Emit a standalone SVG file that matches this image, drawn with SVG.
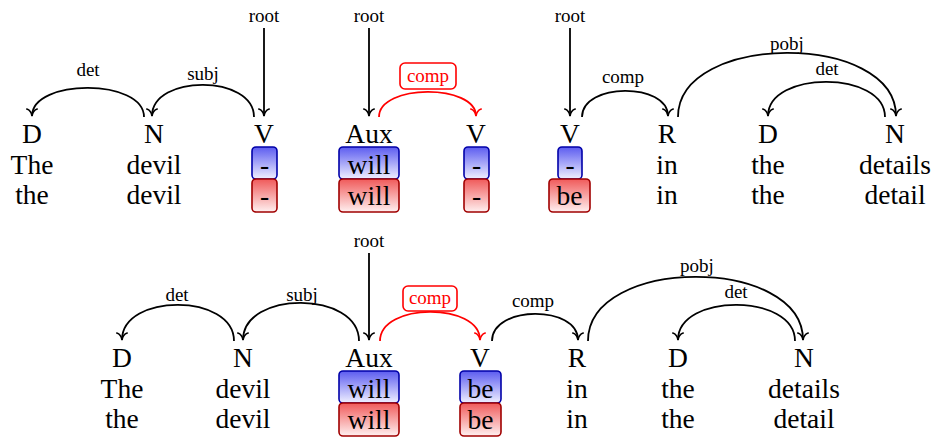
<svg xmlns="http://www.w3.org/2000/svg" width="935" height="440" viewBox="0 0 935 440">
<defs>
<linearGradient id="gb" x1="0" y1="0" x2="0" y2="1"><stop offset="0" stop-color="#5c5cf0"/><stop offset="1" stop-color="#f0f0ff"/></linearGradient>
<linearGradient id="gr" x1="0" y1="0" x2="0" y2="1"><stop offset="0" stop-color="#f05a5a"/><stop offset="1" stop-color="#fff0f0"/></linearGradient>
<marker id="ah" viewBox="-9 -7 11 14" markerWidth="11" markerHeight="14" refX="0" refY="0" orient="auto" markerUnits="userSpaceOnUse"><path d="M-7,-5.2 C-6,-2 -2.5,-0.4 0,0 C-2.5,0.4 -6,2 -7,5.2" fill="none" stroke="#000" stroke-width="1.6" stroke-linecap="round"/></marker>
<marker id="ahr" viewBox="-9 -7 11 14" markerWidth="11" markerHeight="14" refX="0" refY="0" orient="auto" markerUnits="userSpaceOnUse"><path d="M-7,-5.2 C-6,-2 -2.5,-0.4 0,0 C-2.5,0.4 -6,2 -7,5.2" fill="none" stroke="#f00" stroke-width="1.6" stroke-linecap="round"/></marker>
</defs>
<style>
text{font-family:"Liberation Serif","Times New Roman",serif;text-anchor:middle;fill:#000}
.t{font-size:27.5px}
.l{font-size:19px}
.lr{font-size:19px;fill:#f00}
.e{fill:none;stroke:#000;stroke-width:1.8;marker-end:url(#ah)}
.er{fill:none;stroke:#f00;stroke-width:1.8;marker-end:url(#ahr)}
.lb{fill:#fff;stroke:#f00;stroke-width:1.6}
.bb{fill:url(#gb);stroke:#0000a8;stroke-width:1.6}
.br{fill:url(#gr);stroke:#a00000;stroke-width:1.6}
</style>

<g id="connectors">
<!-- top -->
<path class="e" d="M264,28 L264,116"/>
<path class="e" d="M369,28 L369,116"/>
<path class="e" d="M570,28 L570,116"/>
<path class="e" d="M144,117 C144,78.3 32,78.3 32,116"/>
<path class="e" d="M254,117 C254,74.3 152,74.3 152,116"/>
<path class="er" d="M379,117 C379,83.7 476,83.7 476,116"/>
<path class="e" d="M582,117 C582,82.3 668,82.3 668,116"/>
<path class="e" d="M678,117 C678,31.7 896,31.7 896,116"/>
<path class="e" d="M885,117 C885,70.3 768,70.3 768,116"/>
<!-- bottom -->
<path class="e" d="M369,253 L369,340"/>
<path class="e" d="M234,341 C234,293 122,293 122,340"/>
<path class="e" d="M359,341 C359,290.3 243,290.3 243,340"/>
<path class="er" d="M380,341 C380,302.3 480,302.3 480,340"/>
<path class="e" d="M492,341 C492,305 578,305 578,340"/>
<path class="e" d="M588,341 C588,255.7 803,255.7 803,340"/>
<path class="e" d="M795,341 C795,293 678,293 678,340"/>
</g>

<g id="edge-labels">
<text class="l" x="264" y="22">root</text>
<text class="l" x="369" y="22">root</text>
<text class="l" x="570" y="22">root</text>
<text class="l" x="88" y="76">det</text>
<text class="l" x="203" y="80">subj</text>
<rect class="lb" x="400" y="63" width="56" height="26" rx="5"/>
<text class="lr" x="428" y="82">comp</text>
<text class="l" x="623" y="83">comp</text>
<text class="l" x="787" y="50">pobj</text>
<text class="l" x="827" y="75">det</text>

<text class="l" x="369" y="247">root</text>
<text class="l" x="177" y="301">det</text>
<text class="l" x="302" y="301">subj</text>
<rect class="lb" x="403" y="286" width="54" height="25" rx="5"/>
<text class="lr" x="430" y="304">comp</text>
<text class="l" x="533" y="307">comp</text>
<text class="l" x="697" y="272">pobj</text>
<text class="l" x="736" y="298">det</text>
</g>

<!-- top row -->
<g id="t1"><text class="t" x="32" y="143">D</text><text class="t" x="32" y="174">The</text><text class="t" x="32" y="204">the</text></g>
<g id="t2"><text class="t" x="154" y="143">N</text><text class="t" x="154" y="174">devil</text><text class="t" x="154" y="204">devil</text></g>
<g id="t3"><text class="t" x="264" y="143">V</text><rect class="bb" x="252" y="147" width="25" height="32" rx="4"/><text class="t" x="264.5" y="174">-</text><rect class="br" x="252" y="179" width="25" height="33" rx="4"/><text class="t" x="264.5" y="205">-</text></g>
<g id="t4"><text class="t" x="369" y="143">Aux</text><rect class="bb" x="339" y="147" width="60" height="32" rx="4"/><text class="t" x="369" y="174">will</text><rect class="br" x="339" y="179" width="60" height="33" rx="4"/><text class="t" x="369" y="205">will</text></g>
<g id="t5"><text class="t" x="476" y="143">V</text><rect class="bb" x="464" y="147" width="25" height="32" rx="4"/><text class="t" x="476.5" y="174">-</text><rect class="br" x="464" y="179" width="25" height="33" rx="4"/><text class="t" x="476.5" y="205">-</text></g>
<g id="t6"><text class="t" x="570" y="143">V</text><rect class="bb" x="558" y="147" width="24" height="32" rx="4"/><text class="t" x="570" y="174">-</text><rect class="br" x="549" y="179" width="41" height="33" rx="4"/><text class="t" x="569.5" y="205">be</text></g>
<g id="t7"><text class="t" x="667" y="143">R</text><text class="t" x="667" y="174">in</text><text class="t" x="667" y="204">in</text></g>
<g id="t8"><text class="t" x="768" y="143">D</text><text class="t" x="768" y="174">the</text><text class="t" x="768" y="204">the</text></g>
<g id="t9"><text class="t" x="895" y="143">N</text><text class="t" x="895" y="174">details</text><text class="t" x="895" y="204">detail</text></g>

<!-- bottom row -->
<g id="b1"><text class="t" x="122" y="367">D</text><text class="t" x="122" y="398">The</text><text class="t" x="122" y="428">the</text></g>
<g id="b2"><text class="t" x="243" y="367">N</text><text class="t" x="243" y="398">devil</text><text class="t" x="243" y="428">devil</text></g>
<g id="b3"><text class="t" x="369" y="367">Aux</text><rect class="bb" x="339" y="371" width="60" height="32" rx="4"/><text class="t" x="369" y="398">will</text><rect class="br" x="339" y="403" width="60" height="33" rx="4"/><text class="t" x="369" y="429">will</text></g>
<g id="b4"><text class="t" x="480" y="367">V</text><rect class="bb" x="460" y="371" width="41" height="32" rx="4"/><text class="t" x="480.5" y="398">be</text><rect class="br" x="460" y="403" width="41" height="33" rx="4"/><text class="t" x="480.5" y="429">be</text></g>
<g id="b5"><text class="t" x="577" y="367">R</text><text class="t" x="577" y="398">in</text><text class="t" x="577" y="428">in</text></g>
<g id="b6"><text class="t" x="678" y="367">D</text><text class="t" x="678" y="398">the</text><text class="t" x="678" y="428">the</text></g>
<g id="b7"><text class="t" x="804" y="367">N</text><text class="t" x="804" y="398">details</text><text class="t" x="804" y="428">detail</text></g>
</svg>
